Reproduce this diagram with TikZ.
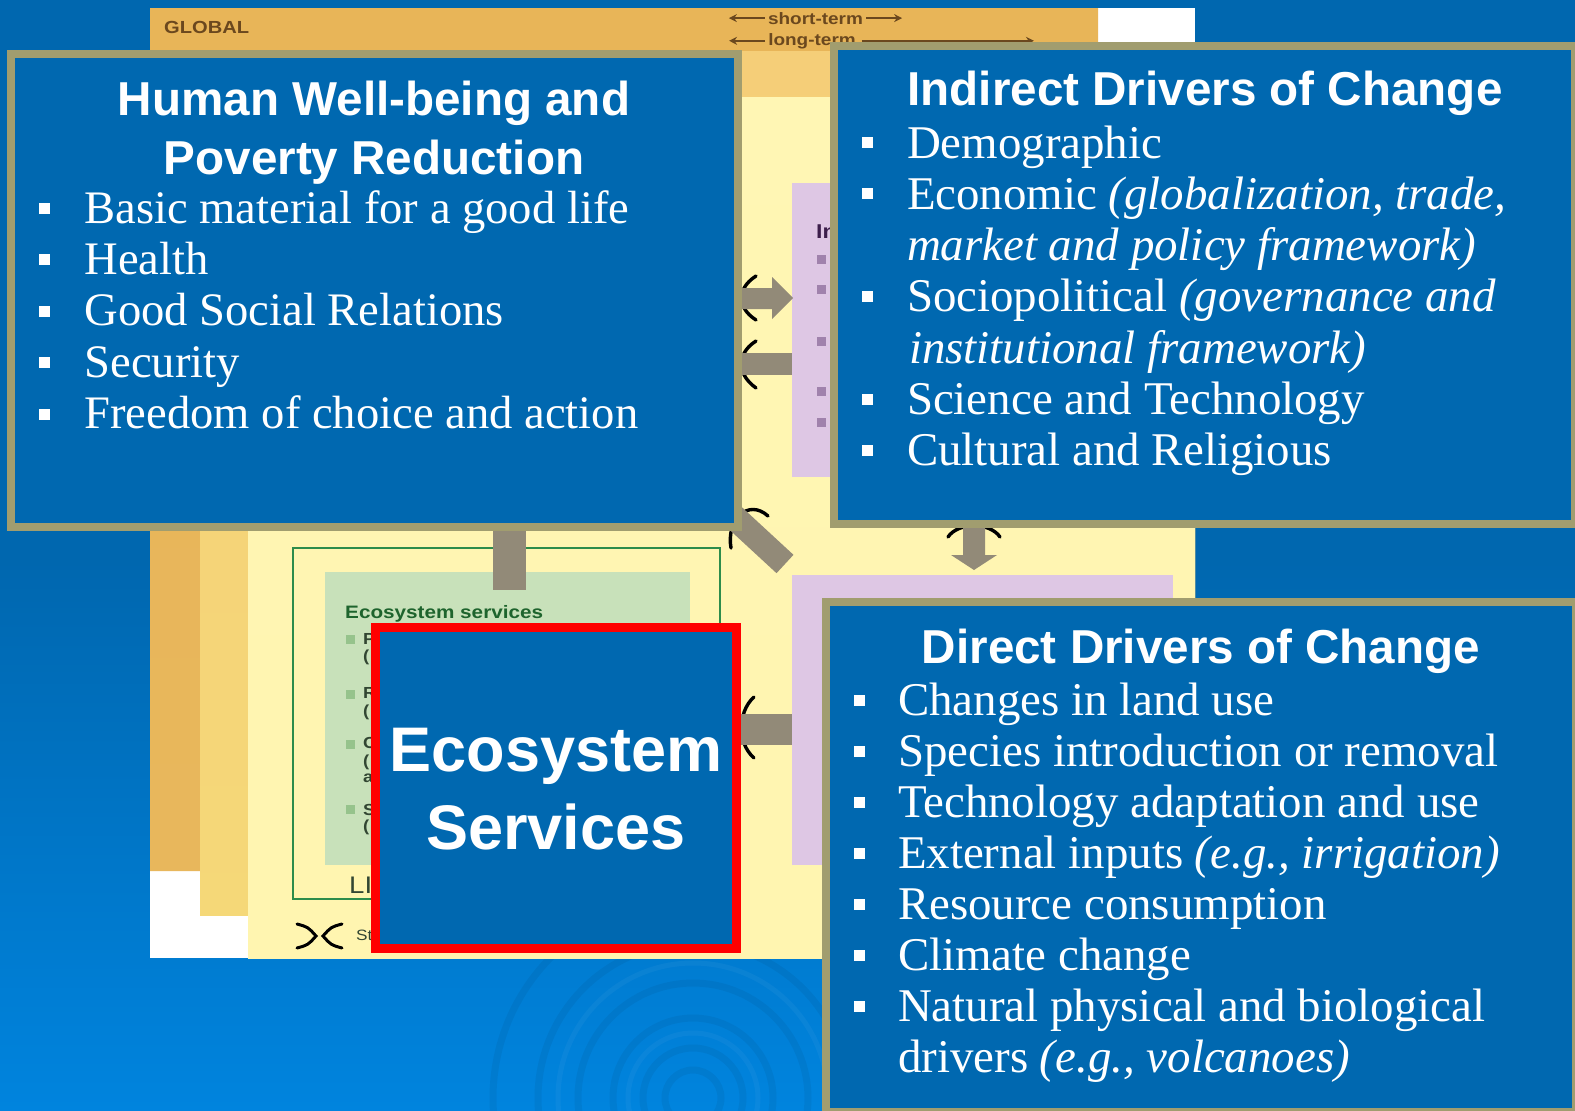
\documentclass[tikz,border=0pt]{standalone}
\usepackage{fontspec}
\setmainfont{Liberation Serif}
\newfontfamily\sansf{Liberation Sans}
\newfontfamily\widef[FakeStretch=1.15]{Liberation Sans}
\usetikzlibrary{arrows.meta}
\definecolor{bgblue}{RGB}{0,103,175}
\definecolor{bgblue2}{RGB}{0,132,222}
\definecolor{boxblue}{RGB}{0,104,176}
\definecolor{tanc}{RGB}{161,157,111}
\definecolor{ecored}{RGB}{255,0,0}
\definecolor{orangetop}{RGB}{232,181,88}
\definecolor{orangemid}{RGB}{246,208,112}
\definecolor{orangebot}{RGB}{232,183,92}
\definecolor{regtop}{RGB}{245,206,120}
\definecolor{regmid}{RGB}{243,233,148}
\definecolor{regbot}{RGB}{245,216,120}
\definecolor{creamt}{RGB}{255,246,180}
\definecolor{creamc}{RGB}{255,250,208}
\definecolor{creamb}{RGB}{255,245,176}
\definecolor{lav}{RGB}{222,199,228}
\definecolor{lavdot}{RGB}{160,130,172}
\definecolor{purplet}{RGB}{60,30,75}
\definecolor{grayar}{RGB}{146,138,120}
\definecolor{greenl}{RGB}{45,140,75}
\definecolor{greenf}{RGB}{200,225,186}
\definecolor{greent}{RGB}{30,100,45}
\definecolor{greendot}{RGB}{150,195,140}
\definecolor{darkgt}{RGB}{50,70,50}
\definecolor{brownt}{RGB}{107,72,30}
\begin{document}
\begin{tikzpicture}[x=1pt,y=-1pt,
  bl/.style={anchor=base west, text=white, inner sep=0pt, outer sep=0pt, font=\fontsize{46.9}{51}\selectfont},
  blh/.style={bl, font=\fontsize{46.6}{51}\selectfont},
  ttl/.style={anchor=base, text=white, inner sep=0pt, outer sep=0pt, font=\sansf\bfseries\fontsize{47.6}{58}\selectfont},
  panel/.style={draw=tanc, line width=8pt, fill=boxblue, inner sep=0pt, outer sep=0pt},
  ecobox/.style={draw=ecored, line width=9pt, fill=boxblue, inner sep=0pt, outer sep=0pt},
  ecotxt/.style={anchor=base, text=white, inner sep=0pt, font=\sansf\bfseries\fontsize{63}{77}\selectfont},
  imark/.style={draw=black, line width=3.4pt, line cap=round},
  gar/.style={fill=grayar},
  topl/.style={text=brownt, inner sep=0pt, anchor=base, font=\widef\bfseries\fontsize{16.5}{18}\selectfont},
  tarr/.style={draw=brownt, line width=2.2pt, -{Stealth[length=8pt,width=8pt]}},
  msq/.style={fill=white},
  smallt/.style={anchor=base west, inner sep=0pt, text=darkgt, font=\widef\bfseries\fontsize{16}{18}\selectfont}
]
\useasboundingbox (0,0) rectangle (1575,1111);
% background
\fill[bgblue] (0,0) rectangle (1575,1111);
\shade[top color=bgblue, bottom color=bgblue2] (0,560) rectangle (1575,1111);
\foreach \r in {28,50,80,115,155,200} \draw[black, opacity=0.05, line width=7pt] (693,1098) circle (\r pt);
\foreach \r in {65,135} \draw[white, opacity=0.04, line width=5pt] (693,1098) circle (\r pt);

% underlying MA diagram
\fill[white] (150,8) rectangle (1195,958);
\shade[top color=orangetop, middle color=orangemid, bottom color=orangebot] (150,8) -- (1098,8) -- (1098,42) -- (1195,42) -- (1195,871) -- (150,871) -- cycle;
\shade[top color=regtop, middle color=regmid, bottom color=regbot] (200,51) rectangle (1195,915);
\shade[top color=creamt, middle color=creamc, bottom color=creamb] (248,97) rectangle (1195,958);
\fill[lav] (792,183) rectangle (1173,477);
\fill[lav] (792,575) rectangle (1173,865);
\node[anchor=base west, inner sep=0pt, text=purplet, font=\widef\bfseries\fontsize{20}{22}\selectfont] (inl) at (816,238) {In};
\foreach \yy in {259,289,341,391,422} \fill[lavdot] (817,\yy-4) rectangle ++(9,9);

% green ecosystem box
\draw[greenl, line width=2.5pt] (293,548) rectangle (720,899);
\fill[greenf] (325,572) rectangle (690,865);
\node[anchor=base west, inner sep=0pt, text=greent, font=\widef\bfseries\fontsize{18}{20}\selectfont] (est) at (345,618) {Ecosystem services};
\foreach \yy in {635,690,740,805} \fill[greendot] (346,\yy) rectangle ++(9,9);
\node[smallt] (lp) at (363,644) {P};
\node[smallt] (lp2) at (363,661) {(};
\node[smallt] (lr) at (363,698) {R};
\node[smallt] (lr2) at (363,716) {(};
\node[smallt] (lc) at (363,748) {C};
\node[smallt] (lc2) at (363,766) {(};
\node[smallt] (lc3) at (363,782) {a};
\node[smallt] (ls) at (363,815) {S};
\node[smallt] (ls2) at (363,831) {(};
\node[anchor=base west, inner sep=0pt, text=darkgt, font=\widef\fontsize{24}{26}\selectfont] (lif) at (349,893) {LI};
\node[anchor=base west, inner sep=0pt, text=darkgt, font=\widef\fontsize{15}{17}\selectfont] (stt) at (356,940) {St};
\draw[black, line width=3pt, line cap=round] (297,924) .. controls (308,927) .. (316,936) .. controls (308,945) .. (297,948);
\draw[black, line width=3pt, line cap=round] (342,924) .. controls (331,927) .. (323,936) .. controls (331,945) .. (342,948);

% top band labels
\node[topl, anchor=base west, font=\widef\bfseries\fontsize{17.5}{19}\selectfont] (glob) at (164,33) {GLOBAL};
\node[topl] (st) at (815.5,24) {short-term};
\node[topl] (lt) at (812,45) {long-term};
\draw[tarr] ([xshift=-3pt]st.west) -- ++(-36,0);
\draw[tarr] ([xshift=3pt]st.east) -- ++(36,0);
\draw[tarr] ([xshift=-3pt]lt.west) -- ++(-36,0);
\draw[tarr] ([xshift=6pt]lt.east) -- ++(172,0);

% intervention marks
\draw[imark] (756,276) .. controls (745,283) and (741,292) .. (742,298) .. controls (741,304) and (745,313) .. (756,320);
\draw[imark] (756,341) .. controls (745,348) and (741,357) .. (742,364) .. controls (741,371) and (745,380) .. (756,388);
\draw[imark] (768,516) .. controls (748,498) and (726,520) .. (731,548);
\draw[imark] (948,537) .. controls (958,522) and (990,522) .. (1000,537);
\draw[imark] (754,697) .. controls (745,705) and (741,718) .. (742,728) .. controls (741,738) and (745,750) .. (754,758);

% gray arrows
\fill[gar] (735,288) -- (772,288) -- (772,277) -- (793,298) -- (772,319) -- (772,309) -- (735,309) -- cycle;
\fill[gar] (735,353) rectangle (792,375);
\draw[grayar, line width=25pt] (733,516) -- (785,564);
\fill[gar] (963,520) -- (985,520) -- (985,555) -- (997,555) -- (974,570) -- (951,555) -- (963,555) -- cycle;
\fill[gar] (735,714) rectangle (792,745);
\fill[gar] (493,525) rectangle (526,590);

% panels
\node[panel, minimum width=727pt, minimum height=473pt] (hw) at (374.5,290.5) {};
\node[panel, minimum width=741pt, minimum height=478pt] (ind) at (1204.5,285) {};
\node[panel, minimum width=750pt, minimum height=510pt] (dir) at (1201,857) {};
\node[ecobox, minimum width=361pt, minimum height=321pt] (eco) at (556,788) {};

% Human well-being
\node[ttl] (ht1) at (374,115.5) {Human Well-being and};
\node[ttl] (ht2) at (374,174) {Poverty Reduction};
\foreach \yy in {223,274.4,325.8,377.2,428.6} \fill[msq] (39,\yy-20) rectangle ++(11,11);
\node[blh] (h1) at (84.5,223) {Basic material for a good life};
\node[blh] (h2) at (84.5,274.4) {Health};
\node[blh] (h3) at (84.5,325.8) {Good Social Relations};
\node[blh] (h4) at (84.5,377.2) {Security};
\node[blh] (h5) at (84.5,428.6) {Freedom of choice and action};

% Indirect drivers
\node[ttl] (it) at (1205,105) {Indirect Drivers of Change};
\foreach \yy in {158,209.3,311.9,414.5,465.8} \fill[msq] (862,\yy-21) rectangle ++(11,11);
\node[bl] (i1) at (907,158) {Demographic};
\node[bl] (i2) at (907,209.3) {Economic \textit{(globalization, trade,}};
\node[bl] (i2b) at (907,260.6) {\textit{market and policy framework)}};
\node[bl] (i3) at (907,311.9) {Sociopolitical \textit{(governance and}};
\node[bl] (i3b) at (909,363.2) {\textit{institutional framework)}};
\node[bl] (i4) at (907,414.5) {Science and Technology};
\node[bl] (i5) at (907,465.8) {Cultural and Religious};

% Direct drivers
\node[ttl] (dt) at (1201,663) {Direct Drivers of Change};
\foreach \yy in {715,766,817,868,919,970,1021} \fill[msq] (854,\yy-20) rectangle ++(11,11);
\node[bl] (d1) at (898,715) {Changes in land use};
\node[bl] (d2) at (898,766) {Species introduction or removal};
\node[bl] (d3) at (898,817) {Technology adaptation and use};
\node[bl] (d4) at (898,868) {External inputs \textit{(e.g., irrigation)}};
\node[bl] (d5) at (898,919) {Resource consumption};
\node[bl] (d6) at (898,970) {Climate change};
\node[bl] (d7) at (898,1021) {Natural physical and biological};
\node[bl] (d7b) at (898,1072) {drivers \textit{(e.g., volcanoes)}};

% Ecosystem services
\node[ecotxt] (eco1) at (556,771) {Ecosystem};
\node[ecotxt] (eco2) at (556,849) {Services};
\end{tikzpicture}
\end{document}
